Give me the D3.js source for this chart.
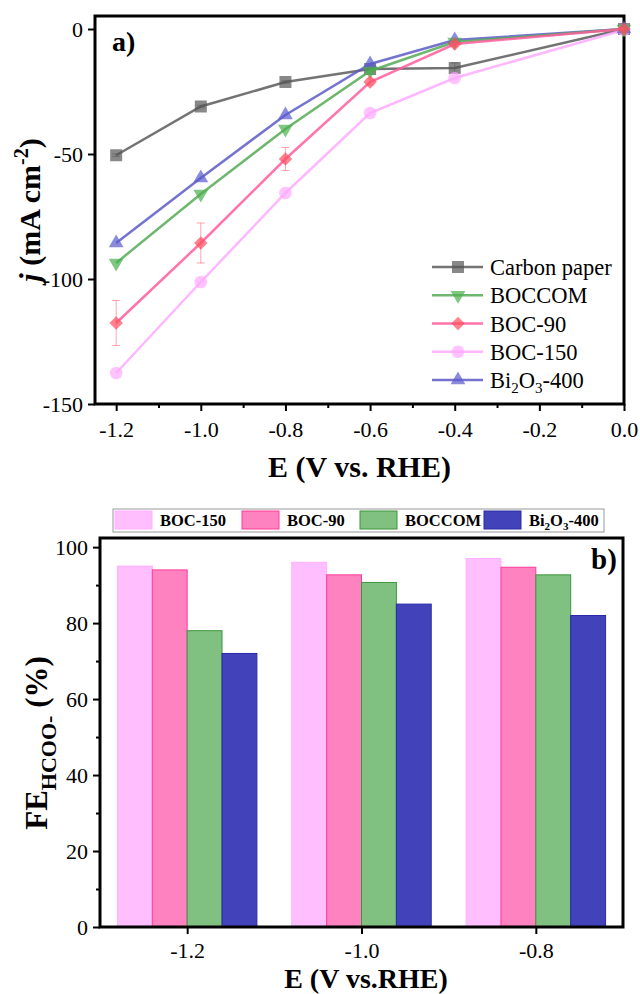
<!DOCTYPE html>
<html>
<head>
<meta charset="utf-8">
<script src="https://cdn.jsdelivr.net/npm/d3@7"></script>
<style>
  body { margin: 0; background: #fff; }
  svg, svg text { font-family: "Liberation Serif", "Times New Roman", serif; }
</style>
</head>
<body>
<div id="chart"></div>
<script>
(function () {
    // ---- data: panel a) current density ----
    var potentials = [-1.2, -1.0, -0.8, -0.6, -0.4, 0.0];
    var carbonPaper = [-50.5, -31, -21.2, -16, -15.6, 0];
    var boccom = [-93.6, -66, -40, -16.8, -5.2, 0];
    var boc90 = [-117.6, -85.6, -52, -21.2, -6, 0];
    var boc150 = [-137.6, -101.2, -65.6, -33.6, -19.6, -0.4];
    var bi2o3 = [-85.6, -59.6, -34.4, -14, -4.4, 0];
    var boc90Err = [9, 8, 4.6, 1.2, 1, 0.5];
    var carbonErr = [0.5, 0.5, 0.5, 0.8, 2, 0.3];

    // ---- data: panel b) faradaic efficiency ----
    var fePotentials = [-1.2, -1.0, -0.8];
    var feBoc150 = [95, 96, 97];
    var feBoc90 = [94, 92.7, 94.7];
    var feBoccom = [78, 90.7, 92.7];
    var feBi2o3 = [72, 85, 82];

    var width = 640, height = 994;
    var svg = d3.select("#chart").append("svg")
        .attr("width", width).attr("height", height);

    var fmt = function (d) { return d.toFixed(1); };
    var serif = "'Liberation Serif', 'Times New Roman', serif";

    function styleAxis(ax, size) {
        ax.attr("font-family", serif);
        ax.select(".domain").remove();
        ax.selectAll("line").attr("stroke-width", 2);
        ax.selectAll("text").attr("font-size", size).attr("fill", "#000");
    }

    /* ================= panel a ================= */
    var xA = d3.scaleLinear().domain([-1.25, 0]).range([95, 624]);
    var yA = d3.scaleLinear().domain([-150, 5.2]).range([404, 16]);

    var series = [
        { name: "Carbon paper", values: carbonPaper, err: carbonErr, line: "#5a5a5a", fill: "#555555", symbol: d3.symbolSquare, size: 144, rot: 0 },
        { name: "BOC-150", values: boc150, err: null, line: "#ffaaff", fill: "#ffaaff", symbol: d3.symbolCircle, size: 125, rot: 0 },
        { name: "Bi2O3-400", values: bi2o3, err: null, line: "#5c5cc8", fill: "#5a5ad0", symbol: d3.symbolTriangle, size: 95, rot: 0 },
        { name: "BOCCOM", values: boccom, err: null, line: "#55aa55", fill: "#4caf50", symbol: d3.symbolTriangle, size: 95, rot: 180 },
        { name: "BOC-90", values: boc90, err: boc90Err, line: "#ff5c9c", fill: "#ff4d5e", symbol: d3.symbolSquare, size: 90, rot: 45 }
    ];

    var gA = svg.append("g");

    // axes
    styleAxis(gA.append("g")
        .attr("transform", "translate(0," + yA(-150) + ")")
        .call(d3.axisBottom(xA).tickValues([-1.1, -0.9, -0.7, -0.5, -0.3, -0.1]).tickSize(4).tickFormat("")), 22);
    styleAxis(gA.append("g")
        .attr("transform", "translate(0," + yA(-150) + ")")
        .call(d3.axisBottom(xA).tickValues([-1.2, -1.0, -0.8, -0.6, -0.4, -0.2, 0.0]).tickSize(7).tickPadding(10).tickFormat(fmt)), 22);
    styleAxis(gA.append("g")
        .attr("transform", "translate(" + xA(-1.25) + ",0)")
        .call(d3.axisLeft(yA).tickValues([0, -50, -100, -150]).tickSize(7).tickPadding(5)
            .tickFormat(function (d) { return String(d); })), 22);

    gA.append("rect")
        .attr("x", xA(-1.25)).attr("y", yA(5.2))
        .attr("width", xA(0) - xA(-1.25)).attr("height", yA(-150) - yA(5.2))
        .attr("fill", "none").attr("stroke", "#000").attr("stroke-width", 3);

    var line = d3.line()
        .x(function (d, i) { return xA(potentials[i]); })
        .y(function (d) { return yA(d); });

    series.forEach(function (s) {
        var g = gA.append("g");
        g.append("path")
            .attr("d", line(s.values))
            .attr("fill", "none")
            .attr("stroke", s.line)
            .attr("stroke-opacity", 0.85)
            .attr("stroke-width", 2.5);
        if (s.err) {
            s.values.forEach(function (v, i) {
                var x = xA(potentials[i]);
                var e = s.err[i];
                g.append("path")
                    .attr("d", "M" + (x - 4) + "," + yA(v + e) + "H" + (x + 4) +
                        "M" + x + "," + yA(v + e) + "V" + yA(v - e) +
                        "M" + (x - 4) + "," + yA(v - e) + "H" + (x + 4))
                    .attr("fill", "none")
                    .attr("stroke", s.fill)
                    .attr("stroke-opacity", 0.5)
                    .attr("stroke-width", 1);
            });
        }
        g.selectAll("path.pt")
            .data(s.values)
            .enter()
            .append("path")
            .attr("class", "pt")
            .attr("d", d3.symbol().type(s.symbol).size(s.size))
            .attr("transform", function (d, i) {
                return "translate(" + xA(potentials[i]) + "," + yA(d) + ") rotate(" + s.rot + ")";
            })
            .attr("fill", s.fill)
            .attr("fill-opacity", 0.7);
    });

    // legend a
    var legendOrder = ["Carbon paper", "BOCCOM", "BOC-90", "BOC-150", "Bi2O3-400"];
    var legY = d3.scalePoint().domain(legendOrder).range([267, 380]);
    legendOrder.forEach(function (name) {
        var s = series.filter(function (e) { return e.name === name; })[0];
        var y = legY(name);
        var lg = gA.append("g");
        lg.append("line")
            .attr("x1", 432).attr("x2", 483).attr("y1", y).attr("y2", y)
            .attr("stroke", s.line).attr("stroke-opacity", 0.85).attr("stroke-width", 2.5);
        lg.append("path")
            .attr("d", d3.symbol().type(s.symbol).size(s.size))
            .attr("transform", "translate(458," + y + ") rotate(" + s.rot + ")")
            .attr("fill", s.fill).attr("fill-opacity", 0.7);
        var t = lg.append("text").attr("x", 490).attr("y", y + 8).attr("font-size", 22.5);
        if (name === "Bi2O3-400") {
            t.append("tspan").text("Bi");
            t.append("tspan").attr("font-size", 15).attr("dy", 5).text("2");
            t.append("tspan").attr("dy", -5).text("O");
            t.append("tspan").attr("font-size", 15).attr("dy", 5).text("3");
            t.append("tspan").attr("dy", -5).text("-400");
        } else {
            t.text(name);
        }
    });

    gA.append("text").attr("x", 112).attr("y", 51)
        .attr("font-size", 28).attr("font-weight", "bold").text("a)");

    gA.append("text")
        .attr("x", (xA(-1.25) + xA(0)) / 2).attr("y", 477)
        .attr("text-anchor", "middle")
        .attr("font-size", 30).attr("font-weight", "bold")
        .text("E (V vs. RHE)");

    var tya = gA.append("text")
        .attr("transform", "translate(40,210) rotate(-90)")
        .attr("text-anchor", "middle")
        .attr("font-size", 30).attr("font-weight", "bold");
    tya.append("tspan").attr("font-style", "italic").text("j");
    tya.append("tspan").text(" (mA cm");
    tya.append("tspan").attr("font-size", 20).attr("dy", -12).text("-2");
    tya.append("tspan").attr("dy", 12).text(")");

    /* ================= panel b ================= */
    var xB = d3.scaleLinear().domain([-1.3, -0.7]).range([100, 623]);
    var yB = d3.scaleLinear().domain([0, 102.4]).range([927, 538]);
    var barW = 0.04;

    var bars = [
        { name: "BOC-150", values: feBoc150, fill: "#ffbfff", stroke: "#ffb0ff" },
        { name: "BOC-90", values: feBoc90, fill: "#ff82c0", stroke: "#ff3a9a" },
        { name: "BOCCOM", values: feBoccom, fill: "#80c080", stroke: "#3c963c" },
        { name: "Bi2O3-400", values: feBi2o3, fill: "#4242ba", stroke: "#2a2aa8" }
    ];

    var gB = svg.append("g");

    bars.forEach(function (b, k) {
        gB.selectAll("rect.b" + k)
            .data(b.values)
            .enter()
            .append("rect")
            .attr("class", "b" + k)
            .attr("x", function (d, i) { return xB(fePotentials[i] + (k - 2) * barW); })
            .attr("width", xB(barW) - xB(0))
            .attr("y", function (d) { return yB(d); })
            .attr("height", function (d) { return yB(0) - yB(d); })
            .attr("fill", b.fill)
            .attr("stroke", b.stroke)
            .attr("stroke-width", 1);
    });

    styleAxis(gB.append("g")
        .attr("transform", "translate(0," + yB(0) + ")")
        .call(d3.axisBottom(xB).tickValues(fePotentials).tickSize(7).tickPadding(8).tickFormat(fmt)), 22);
    styleAxis(gB.append("g")
        .attr("transform", "translate(" + xB(-1.3) + ",0)")
        .call(d3.axisLeft(yB).tickValues([10, 30, 50, 70, 90]).tickSize(4).tickFormat("")), 22);
    styleAxis(gB.append("g")
        .attr("transform", "translate(" + xB(-1.3) + ",0)")
        .call(d3.axisLeft(yB).tickValues([0, 20, 40, 60, 80, 100]).tickSize(7).tickPadding(5)), 22);

    gB.append("rect")
        .attr("x", xB(-1.3)).attr("y", yB(102.4))
        .attr("width", xB(-0.7) - xB(-1.3)).attr("height", yB(0) - yB(102.4))
        .attr("fill", "none").attr("stroke", "#000").attr("stroke-width", 3);

    gB.append("text").attr("x", 591).attr("y", 569)
        .attr("font-size", 29).attr("font-weight", "bold").text("b)");

    // legend b
    gB.append("rect")
        .attr("x", 113).attr("y", 509).attr("width", 491).attr("height", 23)
        .attr("fill", "#fff").attr("stroke", "#999").attr("stroke-width", 1);
    var legX = [115, 242, 360, 484];
    bars.forEach(function (b, k) {
        gB.append("rect")
            .attr("x", legX[k]).attr("y", 511).attr("width", 37).attr("height", 18)
            .attr("fill", b.fill).attr("stroke", b.stroke).attr("stroke-width", 1);
        var t = gB.append("text")
            .attr("x", legX[k] + 45).attr("y", 526)
            .attr("font-size", 16.5).attr("font-weight", "bold");
        if (b.name === "Bi2O3-400") {
            t.append("tspan").text("Bi");
            t.append("tspan").attr("font-size", 11).attr("dy", 4).text("2");
            t.append("tspan").attr("dy", -4).text("O");
            t.append("tspan").attr("font-size", 11).attr("dy", 4).text("3");
            t.append("tspan").attr("dy", -4).text("-400");
        } else {
            t.text(b.name);
        }
    });

    gB.append("text")
        .attr("x", 366).attr("y", 988)
        .attr("text-anchor", "middle")
        .attr("font-size", 28).attr("font-weight", "bold")
        .text("E (V vs.RHE)");

    var tyb = gB.append("text")
        .attr("transform", "translate(47,743) rotate(-90)")
        .attr("text-anchor", "middle")
        .attr("font-size", 31).attr("font-weight", "bold");
    tyb.append("tspan").text("FE");
    tyb.append("tspan").attr("font-size", 22).attr("dy", 9).text("HCOO-");
    tyb.append("tspan").attr("dy", -9).text(" (%)");
})();
</script>
</body>
</html>
